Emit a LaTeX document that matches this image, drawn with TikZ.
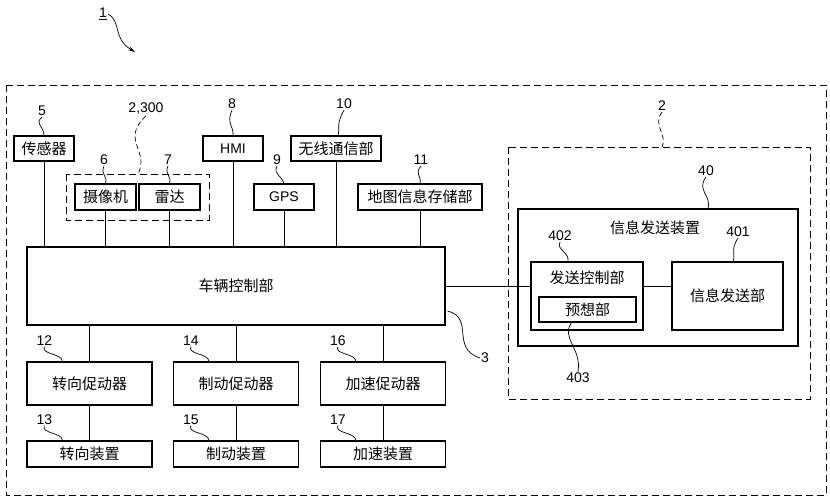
\documentclass[tikz,border=0pt]{standalone}
\usepackage{fontspec}
\setmainfont{Liberation Sans}
\newfontfamily\cjk{Noto Sans CJK SC}
\usetikzlibrary{arrows.meta,calc}

\tikzset{
    box/.style={draw, line width=1.2pt, inner sep=0pt, font=\cjk\fontsize{15}{17}\selectfont},
    num/.style={font=\fontsize{14}{16}\selectfont, inner sep=1pt},
    wire/.style={line width=0.8pt},
    lead/.style={line width=0.7pt},
    grp/.style={line width=0.8pt, dash pattern=on 7pt off 4pt}
}

\begin{document}
\begin{tikzpicture}[x=1pt,y=-1pt]

    \useasboundingbox (0,0) rectangle (830,500);

    % Outer system frame
    \draw[grp] (6,85) rectangle (826,495);
    \node[num] (l1) at (103,14) {\underline{1}};
    \draw[lead, -{Stealth[length=7pt,width=4pt]}] (l1.east) .. controls (122,22) and (112,38) .. (135,52);

    % Sensors and inputs
    \node[box, minimum width=60pt, minimum height=25pt] (sen) at (44,148.5) {传感器};
    \node[box, minimum width=61pt, minimum height=26pt] (cam) at (105.5,197) {摄像机};
    \node[box, minimum width=61pt, minimum height=26pt] (rad) at (169.5,197) {雷达};
    \draw[grp] (66,174) rectangle (209,220);
    \node[box, minimum width=60pt, minimum height=25pt] (hmi) at (233,148.5) {\rmfamily\fontsize{14}{16}\selectfont HMI};
    \node[box, minimum width=60pt, minimum height=26pt] (gps) at (284,197) {\rmfamily\fontsize{14}{16}\selectfont GPS};
    \node[box, minimum width=90pt, minimum height=25pt] (wls) at (336,148.5) {无线通信部};
    \node[box, minimum width=124pt, minimum height=26pt] (map) at (420,197) {地图信息存储部};

    \node[num] (l5) at (42,111) {5};
    \node[num] (l6) at (104,160) {6};
    \node[num] (l7) at (168,160) {7};
    \node[num] (l8) at (232,104) {8};
    \node[num] (l9) at (277,160) {9};
    \node[num] (l10) at (344,104) {10};
    \node[num] (l11) at (421,160) {11};
    \node[num] (l2300) at (146,109) {2,300};

    \draw[lead] (l5.south) .. controls (34,124) and (44,126) .. (sen.north);
    \draw[lead] (l6.south) .. controls (100,174) and (108,176) .. (cam.north);
    \draw[lead] (l7.south) .. controls (164,174) and (172,176) .. (rad.north);
    \draw[lead] (l8.south) .. controls (226,124) and (234,126) .. (hmi.north);
    \draw[lead] (l9.south) .. controls (273,174) and (282,176) .. (gps.north);
    \draw[lead] (l10.south) .. controls (336,124) and (340,128) .. (338,136);
    \draw[lead] (l11.south) .. controls (414,174) and (422,176) .. (map.north);
    \draw[lead, dash pattern=on 5pt off 3pt] (l2300.south) .. controls (120,140) and (150,150) .. (138,174);

    % Vehicle control unit
    \node[box, minimum width=418pt, minimum height=78pt] (vcu) at (236,286) {车辆控制部};
    \node[num] (l3) at (485,358) {3};
    \draw[lead] ($(vcu.east)+(2,25)$) .. controls (475,318) and (450,348) .. (l3.west);

    \foreach \n in {sen,cam,rad,hmi,gps,wls,map}
        \draw[wire] (\n.south) -- (\n.south |- vcu.north);

    % Actuators and devices
    \node[box, minimum width=125pt, minimum height=43pt] (a12) at (89.5,383.5) {转向促动器};
    \node[box, minimum width=125pt, minimum height=43pt] (a14) at (236,383.5) {制动促动器};
    \node[box, minimum width=125pt, minimum height=43pt] (a16) at (383,383.5) {加速促动器};
    \node[box, minimum width=125pt, minimum height=26pt] (d13) at (89.5,454) {转向装置};
    \node[box, minimum width=125pt, minimum height=26pt] (d15) at (236,454) {制动装置};
    \node[box, minimum width=125pt, minimum height=26pt] (d17) at (383,454) {加速装置};

    \foreach \a/\d in {a12/d13,a14/d15,a16/d17} {
        \draw[wire] (\a.north) -- (\a.north |- vcu.south);
        \draw[wire] (\a.south) -- (\d.north);
    }

    \foreach \a/\m in {a12/12,a14/14,a16/16,d13/13,d15/15,d17/17} {
        \node[num] (l\m) at ($(\a.north west)+(18,-21)$) {\m};
        \draw[lead] (l\m.south) .. controls +(-4,8) and +(0,-8) .. ($(\a.north west)+(36,0)$);
    }

    % Information transmission system
    \draw[grp] (508,147) rectangle (810,399);
    \node[num] (l2) at (662,106) {2};
    \draw[lead, dash pattern=on 5pt off 3pt] (l2.south) .. controls (652,125) and (668,135) .. (662,147);

    \node[box, minimum width=280pt, minimum height=137pt] (dev) at (658,277.5) {};
    \node[font=\cjk\fontsize{15}{17}\selectfont] (devt) at (655,228) {信息发送装置};
    \node[num] (l40) at (706,171) {40};
    \draw[lead] (l40.south) .. controls (696,190) and (712,196) .. (708,209);

    \node[box, minimum width=112pt, minimum height=68pt] (tc) at (587,296) {};
    \node[font=\cjk\fontsize{15}{17}\selectfont] (tct) at (587,278) {发送控制部};
    \node[box, minimum width=97pt, minimum height=25pt] (pre) at (587.5,309.5) {预想部};
    \node[box, minimum width=111pt, minimum height=68pt] (ts) at (727.5,296) {信息发送部};

    \node[num] (l402) at (560,236) {402};
    \node[num] (l401) at (738,232) {401};
    \node[num] (l403) at (578,378) {403};
    \draw[lead] (l402.south) .. controls (556,250) and (570,252) .. (568,262);
    \draw[lead] (l401.south) .. controls (730,250) and (736,254) .. (733,262);
    \draw[lead] (572,322) .. controls (560,338) and (582,348) .. (l403.north);

    \draw[wire] (vcu.east) -- (vcu.east -| tc.west);
    \draw[wire] (tc.east |- vcu.east) -- (ts.west |- vcu.east);

\end{tikzpicture}
\end{document}
